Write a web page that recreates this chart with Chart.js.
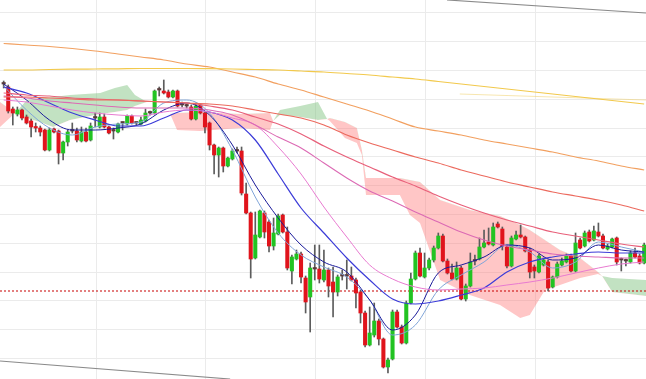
<!DOCTYPE html>
<html>
<head>
<meta charset="utf-8">
<script src="https://cdn.jsdelivr.net/npm/chart.js@4.4.1/dist/chart.umd.min.js"></script>
<style>
  html, body { margin: 0; padding: 0; background: #fff; }
  #wrap { width: 646px; height: 379px; }
</style>
</head>
<body>
<div id="wrap"><canvas id="chart" width="646" height="379"></canvas></div>
<script>
/* ── Candles (hourly bars, index 0..140) ─────────── */
const opens = [
  316,313,291,286,290,283,279,273,272,270,
  250,271,269,247,258,269,269,259,268,260,
  282,273,283,273,269,268,277,276,284,277,
  276,279,287,287,310,309,308,303,309,295,
  294,293,281,295,287,277,255,245,252,234,
  241,249,249,206,187,142,163,187,178,154,
  166,185,168,129,141,146,122,103,131,131,
  120,130,118,108,124,124,124,120,108,87,
  55,65,79,61,33,41,88,73,57,97,
  121,147,123,132,140,152,164,139,127,121,
  132,101,114,139,141,153,158,155,176,171,
  153,134,161,165,163,150,133,128,135,138,
  113,123,135,138,144,129,160,154,168,160,
  168,164,151,153,162,140,139,138,147,144,
  137
];
const closes = [
  316,289,287,290,282,277,273,272,268,250,
  270,268,247,258,268,269,260,268,259,274,
  282,283,273,267,269,276,277,284,277,277,
  280,287,287,309,310,307,303,309,294,295,
  294,281,294,287,273,255,245,252,234,242,
  249,249,207,187,141,165,189,168,154,167,
  184,168,132,143,146,123,98,132,131,121,
  130,114,108,123,124,124,120,107,87,55,
  67,79,61,33,40,88,73,57,97,121,
  147,124,132,140,152,164,139,127,121,132,
  101,114,138,139,153,157,156,173,173,154,
  134,162,165,163,149,128,129,144,140,112,
  123,136,139,144,129,157,152,167,159,169,
  164,152,154,161,138,140,139,147,143,137,
  155
];
const highs = [
  319,315,293,293,291,285,281,277,274,271,
  272,272,270,259,270,277,272,273,272,277,
  287,287,286,274,272,277,278,285,285,278,
  283,291,289,310,313,320,310,310,310,298,
  296,295,297,296,288,278,256,253,253,243,
  251,253,253,217,188,188,190,189,180,182,
  186,186,173,145,150,148,124,137,155,155,
  150,132,133,125,130,140,133,122,110,89,
  93,97,81,62,42,90,90,75,99,127,
  149,152,147,142,154,167,166,141,136,138,
  134,116,147,145,162,170,172,177,178,173,
  155,164,169,175,164,152,135,146,142,140,
  124,138,142,146,146,167,162,169,170,174,
  177,166,156,162,163,142,141,149,152,146,
  157
];
const lows = [
  312,287,275,284,280,276,263,268,264,249,
  249,267,236,240,254,267,258,258,258,259,
  273,272,272,266,261,267,270,275,276,275,
  275,278,285,286,304,306,302,302,293,293,
  292,280,280,286,267,250,226,223,228,233,
  240,247,205,186,122,141,162,162,148,150,
  165,167,130,116,140,117,87,68,120,117,
  118,103,83,104,120,111,119,92,77,53,
  54,63,55,32,27,40,72,56,56,96,
  120,123,122,130,138,151,138,126,120,120,
  100,99,113,135,140,152,155,154,172,150,
  132,133,160,162,148,122,122,127,134,109,
  112,122,134,137,128,128,151,153,158,159,
  163,151,150,152,135,129,134,137,142,136,
  136
];

/* ── Moving averages, read every 5 bars ──────────── */
const lineX = [0,5,10,15,20,25,30,35,40,45,50,55,60,65,70,75,80,85,90,95,100,105,110,115,120,125,130,135,140];
const maYellow    = [330,330,330.5,330.8,331,331.2,331.5,331.5,331.5,331.3,331,330.5,330,329,328,326.5,325,323,321,318.5,316,313.5,311,308.5,306,303.5,301,298.5,296];
const maOrange    = [356.5,355,353.5,351.5,349,346,343,340,336,333,328,323,316,310,303,296,289,281,273,269,265,260,256,252,248,243,239,234,230];
const maSalmon    = [303,303,302,301,300,300,299,298,297,296,294,290,286,282,275,265,257,250,243,237,230,224,218,213,208,204,200,195,189];
const maPinkRed   = [307,305,304,302,301,300,299,298,297,294,290,283,276,266,254,243,233,223,214,204,195,187,180,174,168,164,160,156,153];
const maMagenta   = [304,302,299,297,295,293,292,292,292,290,285,275,263,252,237,222,209,199,188,178,168,160,154,150,146,144,143,142,142];
const maPink      = [300,298,294,290,287,285,284,288,290,288,282,275,253,226,193,163,135,121,113,110,111,112,115,118,122,127,132,136,138];
const maBlue      = [313,307,297,287,280,274,274,282,290,288,280,260,226,192,167,142,120,101,96,99,105,112,128,138,143,146,148,147,147];
const maNavy      = [316,300,280,270,270,272,276,290,297,285,255,215,182,155,138,128,100,70,85,127,135,143,155,152,140,142,155,150,148];
const maLightBlue = [314,290,272,265,273,276,278,297,300,287,250,203,167,145,133,123,100,65,75,110,125,138,155,148,132,138,158,153,148];
const faintX = [99.7, 140.4], faintY = [306, 300];

/* ── Ichimoku cloud ──────────────────────────────── */
const cloudX = [-0.8,2.5,5.1,7.9,10.8,14.5,21.1,24.3,27.0,28.7,31.3,36.4,37.9,42.9,51.7,58.2,58.9,60.4,64.8,68.7,70.7,
                71.3,74.6,77.2,78.3,79.2,86.6,88.8,91.0,95.4,101.9,108.5,112.9,115.0,118.3,121.6,126.0,129.9,130.8,133.0,140.4];
const spanA  = [273,287,300,302,303,305,307,312,315,305,298,286,270,269,272,270,279,290,294,298,281,
                279,262,257,245,205,205,185,177,120,105,95,82,85,110,115,122,126,124,122,120];
const spanB  = [298,287,282,278,273,280,286,288,290,294,298,286,287,288,286,287,279,285,283,280,281,
                282,278,272,250,222,222,220,218,200,190,184,175,170,160,150,142,128,124,108,104];

/* ── Levels and channel ──────────────────────────── */
const supportLevel = 109;
const channelTopX = [96.9, 140.4], channelTopY = [400, 387];
const channelLowX = [-0.8, 49.5],  channelLowY = [39, 21];

/* ── Axis ranges / grid ──────────────────────────── */
const xMin = -0.8, xMax = 140.4;
const yMin = 21, yMax = 400;
const gridX = [20.2, 44.2, 68.2, 92.2, 116.2];
const gridY = [41.5, 70.3, 99.1, 127.9, 156.7, 185.5, 214.3, 243.1, 271.9, 300.7, 329.5, 358.3, 387.1];

const UP = '#22c322', DOWN = '#e0141c', FLAT = '#5a3a3a', WICK = '#5c5c5c';

const idx = opens.map((_, i) => i);
const wickData = idx.map(i => ({ x: i, y: [lows[i], highs[i]] }));
const bodyData = idx.map(i => ({ x: i, y: [opens[i], closes[i]] }));
const bodyColors = idx.map(i => closes[i] > opens[i] ? UP : closes[i] < opens[i] ? DOWN : FLAT);

const pts = (xs, ys) => xs.map((x, i) => ({ x: x, y: ys[i] }));

function maLine(values, color, width) {
  return {
    type: 'line', data: pts(lineX, values), borderColor: color, borderWidth: width || 1,
    pointRadius: 0, cubicInterpolationMode: 'monotone', fill: false, order: 3
  };
}

new Chart(document.getElementById('chart'), {
  type: 'bar',
  data: {
    datasets: [
      { type: 'line', data: pts(cloudX, spanA), borderWidth: 0, pointRadius: 0, tension: 0, order: 20,
        fill: { target: '+1', above: 'rgba(120,190,120,0.45)', below: 'rgba(255,120,120,0.42)' } },
      { type: 'line', data: pts(cloudX, spanB), borderWidth: 0, pointRadius: 0, tension: 0, order: 20, fill: false },

      { type: 'line', data: pts([xMin, xMax], [supportLevel, supportLevel]), borderColor: '#c80000',
        borderWidth: 1.2, borderDash: [2, 2], pointRadius: 0, order: 14 },
      { type: 'line', data: pts(channelTopX, channelTopY), borderColor: '#8a8a8a', borderWidth: 1.2, pointRadius: 0, order: 14 },
      { type: 'line', data: pts(channelLowX, channelLowY), borderColor: '#8a8a8a', borderWidth: 1.2, pointRadius: 0, order: 14 },
      { type: 'line', data: pts(faintX, faintY), borderColor: 'rgba(240,210,110,0.55)', borderWidth: 1, pointRadius: 0, order: 14 },

      { data: wickData, backgroundColor: WICK, barThickness: 1, grouped: false, order: 8 },
      { data: bodyData, backgroundColor: bodyColors, barThickness: 3.4, minBarLength: 1.5, grouped: false, order: 7 },

      maLine(maYellow, '#f2c94c', 1.2),
      maLine(maOrange, '#f2a060', 1.2),
      maLine(maSalmon, '#ec6a5e', 1.2),
      maLine(maPinkRed, '#e8607a', 1.2),
      maLine(maMagenta, '#dc6ab4', 1.1),
      maLine(maPink, '#e87ad0', 1),
      maLine(maBlue, '#3c3cd8', 1.2),
      maLine(maNavy, '#1a1a9a', 1),
      maLine(maLightBlue, '#7fa4d8', 1)
    ]
  },
  options: {
    responsive: false,
    animation: false,
    layout: { padding: 0 },
    plugins: { legend: { display: false }, tooltip: { enabled: false } },
    scales: {
      x: {
        type: 'linear', min: xMin, max: xMax, offset: false,
        grid: { color: '#ebebeb', drawTicks: false, offset: false },
        ticks: { display: false }, border: { display: false },
        afterBuildTicks: s => { s.ticks = gridX.map(v => ({ value: v })); }
      },
      y: {
        type: 'linear', min: yMin, max: yMax,
        grid: { color: '#ebebeb', drawTicks: false },
        ticks: { display: false }, border: { display: false },
        afterBuildTicks: s => { s.ticks = gridY.map(v => ({ value: v })); }
      }
    }
  }
});
</script>
</body>
</html>
